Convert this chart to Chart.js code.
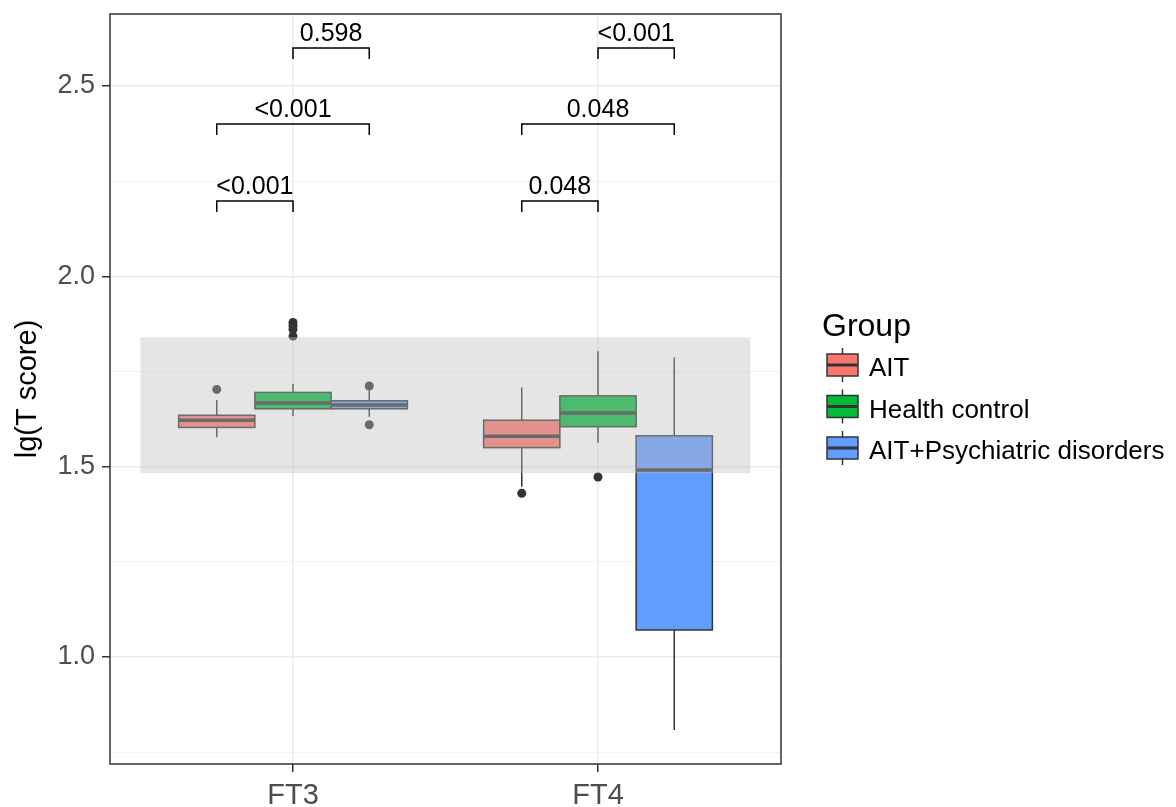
<!DOCTYPE html>
<html>
<head>
<meta charset="utf-8">
<script src="https://cdn.jsdelivr.net/npm/chart.js@4.4.1/dist/chart.umd.min.js"></script>
<style>
  html, body { margin: 0; padding: 0; background: #fff; }
</style>
</head>
<body>
<canvas id="c" width="1176" height="807"></canvas>
<script>
var categories = ['FT3', 'FT4'];
var groups = ['AIT', 'Health control', 'AIT+Psychiatric disorders'];
var groupColors = ['#F8766D', '#00BA38', '#619CFF'];

// box stats, one value per category (FT3, FT4)
var lowAIT = [1.577, 1.447], q1AIT = [1.603, 1.550], medAIT = [1.622, 1.580], q3AIT = [1.635, 1.622], highAIT = [1.675, 1.708];
var lowHC = [1.633, 1.563], q1HC = [1.652, 1.605], medHC = [1.667, 1.641], q3HC = [1.695, 1.686], highHC = [1.717, 1.803];
var lowPsy = [1.631, 0.808], q1Psy = [1.652, 1.071], medPsy = [1.662, 1.491], q3Psy = [1.673, 1.581], highPsy = [1.700, 1.787];

// outliers per category
var outAIT = [[1.703], [1.430]];
var outHC = [[1.879, 1.870, 1.861, 1.843], [1.473]];
var outPsy = [[1.712, 1.610], []];

var yTicks = [0.75, 1, 1.25, 1.5, 1.75, 2, 2.25, 2.5];
var bandX = [0.5, 2.5];
var bandY = [1.483, 1.840];

// significance brackets: group index pairs, heights, p labels per category
var bracketPairs = [[0, 1], [0, 2], [1, 2]];
var bracketY = [2.198, 2.400, 2.600];
var pFT3 = ['<0.001', '<0.001', '0.598'];
var pFT4 = ['0.048', '0.048', '<0.001'];

var FONT = '"Liberation Sans", Arial, sans-serif';
var boxes = [
  { low: lowAIT, q1: q1AIT, med: medAIT, q3: q3AIT, high: highAIT, out: outAIT },
  { low: lowHC, q1: q1HC, med: medHC, q3: q3HC, high: highHC, out: outHC },
  { low: lowPsy, q1: q1Psy, med: medPsy, q3: q3Psy, high: highPsy, out: outPsy }
];
var DODGE = 0.25;
function xPos(c, g) { return c + 1 + (g - 1) * DODGE; }

var datasets = boxes.map(function (b, g) {
  var pts = [];
  b.out.forEach(function (vals, c) {
    vals.forEach(function (v) { pts.push({ x: xPos(c, g), y: v }); });
  });
  return {
    label: groups[g], data: pts, pointRadius: 4.5, pointHoverRadius: 4.5,
    backgroundColor: '#333333', borderWidth: 0, showLine: false
  };
});

var boxPlugin = {
  id: 'boxes',
  beforeDatasetsDraw: function (chart) {
    var ctx = chart.ctx, xs = chart.scales.x, ys = chart.scales.y;
    ctx.save();
    ctx.beginPath();
    ctx.rect(chart.chartArea.left, chart.chartArea.top, chart.chartArea.width, chart.chartArea.height);
    ctx.clip();
    boxes.forEach(function (b, g) {
      categories.forEach(function (cat, c) {
        var xc = xs.getPixelForValue(xPos(c, g));
        var xl = xs.getPixelForValue(xPos(c, g) - DODGE / 2);
        var xr = xs.getPixelForValue(xPos(c, g) + DODGE / 2);
        var yLow = ys.getPixelForValue(b.low[c]), yQ1 = ys.getPixelForValue(b.q1[c]);
        var yMed = ys.getPixelForValue(b.med[c]), yQ3 = ys.getPixelForValue(b.q3[c]);
        var yHigh = ys.getPixelForValue(b.high[c]);
        ctx.strokeStyle = '#333333';
        ctx.lineWidth = 1.5;
        ctx.beginPath();
        ctx.moveTo(xc, yQ3); ctx.lineTo(xc, yHigh);
        ctx.moveTo(xc, yQ1); ctx.lineTo(xc, yLow);
        ctx.stroke();
        ctx.fillStyle = groupColors[g];
        ctx.fillRect(xl, yQ3, xr - xl, yQ1 - yQ3);
        ctx.strokeRect(xl, yQ3, xr - xl, yQ1 - yQ3);
        ctx.lineWidth = 3.5;
        ctx.beginPath();
        ctx.moveTo(xl, yMed); ctx.lineTo(xr, yMed);
        ctx.stroke();
      });
    });
    ctx.restore();
  },
  afterDatasetsDraw: function (chart) {
    var ctx = chart.ctx, xs = chart.scales.x, ys = chart.scales.y;
    ctx.save();
    // translucent grey band drawn over the boxes
    var x0 = xs.getPixelForValue(bandX[0]), x1 = xs.getPixelForValue(bandX[1]);
    var y0 = ys.getPixelForValue(bandY[1]), y1 = ys.getPixelForValue(bandY[0]);
    ctx.fillStyle = 'rgba(190,190,190,0.4)';
    ctx.fillRect(x0, y0, x1 - x0, y1 - y0);

    // brackets
    var tickH = 0.029;
    ctx.strokeStyle = '#000';
    ctx.lineWidth = 1.5;
    ctx.fillStyle = '#000';
    ctx.font = '25px ' + FONT;
    ctx.textAlign = 'center';
    ctx.textBaseline = 'alphabetic';
    [pFT3, pFT4].forEach(function (labels, c) {
      bracketPairs.forEach(function (pr, k) {
        var xa = xs.getPixelForValue(xPos(c, pr[0]));
        var xb = xs.getPixelForValue(xPos(c, pr[1]));
        var yb = ys.getPixelForValue(bracketY[k]);
        var yt = ys.getPixelForValue(bracketY[k] - tickH);
        ctx.beginPath();
        ctx.moveTo(xa, yt); ctx.lineTo(xa, yb); ctx.lineTo(xb, yb); ctx.lineTo(xb, yt);
        ctx.stroke();
        ctx.fillText(labels[k], (xa + xb) / 2, yb - 7);
      });
    });
    ctx.restore();
  },
  afterDraw: function (chart) {
    var ctx = chart.ctx, a = chart.chartArea;
    ctx.save();
    ctx.strokeStyle = '#333333';
    ctx.lineWidth = 1.5;
    ctx.strokeRect(a.left, a.top, a.right - a.left, a.bottom - a.top);

    // legend
    ctx.fillStyle = '#000';
    ctx.textAlign = 'left';
    ctx.textBaseline = 'alphabetic';
    ctx.font = '32px ' + FONT;
    ctx.fillText('Group', 822, 336);
    ctx.font = '26px ' + FONT;
    groups.forEach(function (name, g) {
      var top = 354 + g * 41.5, h = 22, left = 827, w = 31, cx = left + w / 2;
      ctx.strokeStyle = '#333333';
      ctx.lineWidth = 1.5;
      ctx.beginPath();
      ctx.moveTo(cx, top - 6); ctx.lineTo(cx, top);
      ctx.moveTo(cx, top + h); ctx.lineTo(cx, top + h + 6);
      ctx.stroke();
      ctx.fillStyle = groupColors[g];
      ctx.fillRect(left, top, w, h);
      ctx.strokeRect(left, top, w, h);
      ctx.lineWidth = 3;
      ctx.beginPath();
      ctx.moveTo(left, top + h / 2); ctx.lineTo(left + w, top + h / 2);
      ctx.stroke();
      ctx.fillStyle = '#000';
      ctx.fillText(name, 869, top + 22);
    });
    ctx.restore();
  }
};

new Chart(document.getElementById('c').getContext('2d'), {
  type: 'scatter',
  data: { datasets: datasets },
  plugins: [boxPlugin],
  options: {
    responsive: false,
    animation: false,
    devicePixelRatio: 1,
    layout: { padding: { left: 0, top: 14, right: 395, bottom: 0 } },
    plugins: { legend: { display: false }, tooltip: { enabled: false } },
    scales: {
      x: {
        type: 'linear', min: 0.4, max: 2.6,
        afterBuildTicks: function (s) { s.ticks = categories.map(function (c, i) { return { value: i + 1 }; }); },
        afterFit: function (s) { s.height = 43; s.paddingLeft = 0; s.paddingRight = 0; },
        border: { display: false },
        grid: { color: '#EBEBEB', lineWidth: 1.5, tickColor: '#333333', tickLength: 8 },
        ticks: {
          autoSkip: false, maxRotation: 0, padding: 9,
          color: '#4D4D4D', font: { family: FONT, size: 29, lineHeight: 1 },
          callback: function (v) { return categories[Math.round(v) - 1] || ''; }
        }
      },
      y: {
        type: 'linear', min: 0.719, max: 2.689,
        afterBuildTicks: function (s) { s.ticks = yTicks.map(function (v) { return { value: v }; }); },
        afterFit: function (s) { s.width = 110; s.paddingTop = 0; s.paddingBottom = 0; },
        border: { display: false },
        grid: {
          color: function (c) { return (c.tick && c.tick.value % 0.5 === 0) ? '#EBEBEB' : '#F2F2F2'; },
          lineWidth: function (c) { return (c.tick && c.tick.value % 0.5 === 0) ? 1.5 : 1; },
          tickColor: function (c) { return (c.tick && c.tick.value % 0.5 === 0) ? '#333333' : 'rgba(0,0,0,0)'; },
          tickLength: 8
        },
        ticks: {
          autoSkip: false, padding: 7,
          color: '#4D4D4D', font: { family: FONT, size: 27, lineHeight: 1 },
          callback: function (v) { return v % 0.5 === 0 ? v.toFixed(1) : ''; }
        },
        title: {
          display: true, text: 'lg(T score)', color: '#000',
          font: { family: FONT, size: 29 }, padding: { top: 11, bottom: 0 }
        }
      }
    }
  }
});
</script>
</body>
</html>
